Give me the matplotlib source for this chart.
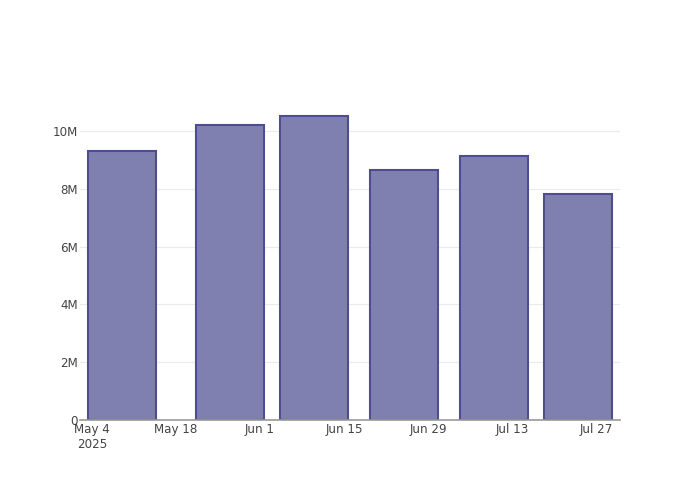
import matplotlib
matplotlib.use("Agg")
import matplotlib.pyplot as plt
import matplotlib.dates as mdates
import datetime as dt

# data
dates = ["2025-05-09", "2025-05-27", "2025-06-10", "2025-06-25", "2025-07-10", "2025-07-24"]
values = [9.33e6, 10.21e6, 10.53e6, 8.66e6, 9.14e6, 7.84e6]
tick_dates = ["2025-05-04", "2025-05-18", "2025-06-01", "2025-06-15", "2025-06-29", "2025-07-13", "2025-07-27"]
tick_labels = ["May 4\n2025", "May 18", "Jun 1", "Jun 15", "Jun 29", "Jul 13", "Jul 27"]
y_ticks = [0, 2e6, 4e6, 6e6, 8e6, 10e6]
y_labels = ["0", "2M", "4M", "6M", "8M", "10M"]

plt.rcParams['font.family'] = ['DejaVu Sans']

x = mdates.date2num([dt.datetime.fromisoformat(d) for d in dates])
xt = mdates.date2num([dt.datetime.fromisoformat(d) for d in tick_dates])

fig = plt.figure(figsize=(7, 5), dpi=100)
ax = fig.add_axes([80/700, 80/500, 540/700, 320/500])

ax.bar(x, values, width=11.45, color='#8080b0', edgecolor='#4e4e8f', linewidth=1.5, zorder=3)

ax.set_xlim(mdates.date2num(dt.datetime(2025, 5, 2)), mdates.date2num(dt.datetime(2025, 7, 31)))
ax.set_ylim(0, 11.08e6)

ax.set_xticks(xt)
ax.set_xticklabels(tick_labels, fontsize=8.6, color='#444444', linespacing=1.25)
ax.set_yticks(y_ticks)
ax.set_yticklabels(y_labels, fontsize=8.6, color='#444444')
ax.tick_params(axis='both', length=0)
ax.tick_params(axis='x', pad=2)
ax.tick_params(axis='y', pad=1.5)

for y in y_ticks[1:]:
    ax.axhline(y, color='#ebebeb', linewidth=0.8, zorder=1)

for s in ['top', 'right', 'left']:
    ax.spines[s].set_visible(False)
ax.spines['bottom'].set_color('#999999')
ax.spines['bottom'].set_linewidth(1.2)
ax.spines['bottom'].set_zorder(4)

fig.savefig("out.png", dpi=100)
